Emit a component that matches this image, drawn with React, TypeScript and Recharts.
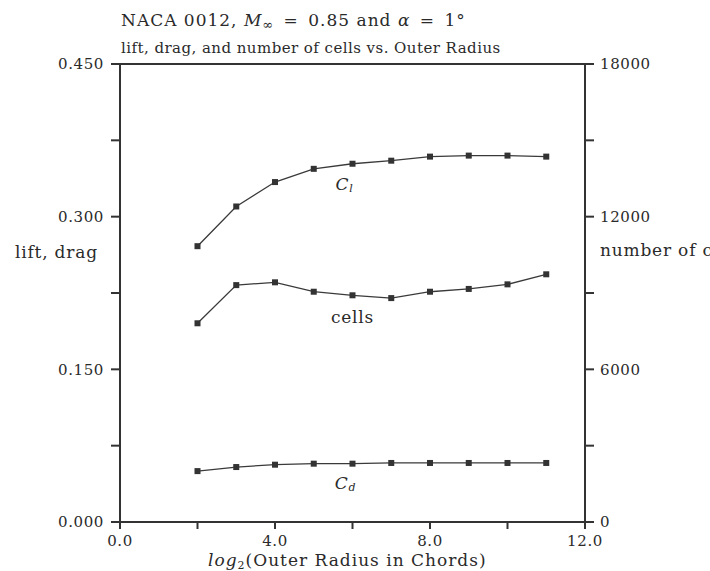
import React from 'react';
import { LineChart, Line, XAxis, YAxis, ReferenceLine, LabelList } from 'recharts';

// log2 of the outer boundary radius, in chords
const radiusLog2 = [2, 3, 4, 5, 6, 7, 8, 9, 10, 11];
// lift coefficient C_l (left axis)
const liftCl = [0.271, 0.31, 0.334, 0.347, 0.352, 0.355, 0.359, 0.36, 0.36, 0.359];
// drag coefficient C_d (left axis)
const dragCd = [0.05, 0.054, 0.0563, 0.0573, 0.0573, 0.058, 0.058, 0.058, 0.058, 0.058];
// number of grid cells (right axis)
const cellCount = [7810, 9310, 9420, 9050, 8910, 8800, 9050, 9160, 9340, 9735];

const xTicks = [0, 2, 4, 6, 8, 10, 12];
const xTickLabels = ['0.0', '', '4.0', '', '8.0', '', '12.0'];
const leftTicks = [0, 0.075, 0.15, 0.225, 0.3, 0.375, 0.45];
const leftTickLabels = ['0.000', '', '0.150', '', '0.300', '', '0.450'];
const rightTicks = [0, 3000, 6000, 9000, 12000, 15000, 18000];
const rightTickLabels = ['0', '', '6000', '', '12000', '', '18000'];

const rows = radiusLog2.map((r, i) => ({
  r,
  cl: liftCl[i],
  cd: dragCd[i],
  cells: cellCount[i],
}));

const FONT = '"DejaVu Serif", serif';
const INK = '#2a2a2a';
const AXIS = '#333';

const tickStyle = { fontFamily: FONT, fontSize: 15, fill: INK, letterSpacing: 0.6 };

const Square = (props: any) => {
  const { cx, cy, index } = props;
  if (cx == null || cy == null) return <g key={`n${index}`} />;
  return <rect key={`s${index}`} x={cx - 3} y={cy - 3} width={6} height={6} fill="#333" />;
};

// Inline series name drawn under one point of the curve
const seriesTag = (at: number, dx: number, dy: number, base: string, sub?: string) =>
  (p: any) => {
    if (p.index !== at) return null;
    return (
      <text
        x={Number(p.x) + dx}
        y={Number(p.y) + dy}
        textAnchor="middle"
        dominantBaseline="central"
        fontFamily={FONT}
        fontSize={17}
        letterSpacing={0.8}
        fill={INK}
        fontStyle={sub ? 'italic' : 'normal'}
      >
        {base}
        {sub ? (
          <tspan fontSize={11} dy={4}>
            {sub}
          </tspan>
        ) : null}
      </text>
    );
  };

const label17 = { fontSize: 17, lineHeight: '20px', whiteSpace: 'nowrap' as const };
const relation = { margin: '0 3px' };

export default function App() {
  return (
    <div
      style={{
        position: 'absolute',
        left: 0,
        top: 0,
        width: 710,
        height: 571,
        overflow: 'hidden',
        background: '#fff',
        fontFamily: FONT,
        color: INK,
      }}
    >
      <LineChart
        width={710}
        height={571}
        data={rows}
        margin={{ top: 64, right: 65, bottom: 0, left: 60 }}
      >
        <XAxis
          dataKey="r"
          type="number"
          domain={[0, 12]}
          ticks={xTicks}
          tickFormatter={(v: number) => xTickLabels[xTicks.indexOf(v)] ?? ''}
          height={49}
          tickSize={7}
          tickMargin={6}
          axisLine={{ stroke: AXIS, strokeWidth: 2 }}
          tickLine={{ stroke: AXIS, strokeWidth: 2 }}
          tick={tickStyle}
          interval={0}
        />
        <YAxis
          yAxisId="left"
          orientation="left"
          type="number"
          domain={[0, 0.45]}
          ticks={leftTicks}
          tickFormatter={(v: number) => leftTickLabels[leftTicks.indexOf(v)] ?? ''}
          width={60}
          tickSize={9}
          tickMargin={7}
          axisLine={{ stroke: AXIS, strokeWidth: 2 }}
          tickLine={{ stroke: AXIS, strokeWidth: 2 }}
          tick={tickStyle}
          interval={0}
        />
        <YAxis
          yAxisId="right"
          orientation="right"
          type="number"
          domain={[0, 18000]}
          ticks={rightTicks}
          tickFormatter={(v: number) => rightTickLabels[rightTicks.indexOf(v)] ?? ''}
          width={60}
          tickSize={9}
          tickMargin={6}
          axisLine={{ stroke: AXIS, strokeWidth: 2 }}
          tickLine={{ stroke: AXIS, strokeWidth: 2 }}
          tick={tickStyle}
          interval={0}
        />
        <ReferenceLine yAxisId="left" y={0.45} stroke={AXIS} strokeWidth={2} />
        <Line
          yAxisId="left"
          dataKey="cl"
          type="linear"
          stroke="#3a3a3a"
          strokeWidth={1.3}
          dot={Square}
          activeDot={false}
          isAnimationActive={false}
        >
          <LabelList dataKey="cl" content={seriesTag(4, -8, 20, 'C', 'l')} />
        </Line>
        <Line
          yAxisId="right"
          dataKey="cells"
          type="linear"
          stroke="#3a3a3a"
          strokeWidth={1.3}
          dot={Square}
          activeDot={false}
          isAnimationActive={false}
        >
          <LabelList dataKey="cells" content={seriesTag(4, 0, 22, 'cells')} />
        </Line>
        <Line
          yAxisId="left"
          dataKey="cd"
          type="linear"
          stroke="#3a3a3a"
          strokeWidth={1.3}
          dot={Square}
          activeDot={false}
          isAnimationActive={false}
        >
          <LabelList dataKey="cd" content={seriesTag(4, -7, 19, 'C', 'd')} />
        </Line>
      </LineChart>

      <div style={{ position: 'absolute', left: 121, top: 10, ...label17, letterSpacing: 1 }}>
        NACA 0012, <i>M</i>
        <sub style={{ fontSize: 13, verticalAlign: '-3px', lineHeight: 0 }}>∞</sub>
        <span style={relation}> = </span>0.85 and <i>α</i>
        <span style={relation}> = </span>1°
      </div>
      <div style={{ position: 'absolute', left: 121, top: 39, fontSize: 15, lineHeight: '18px', whiteSpace: 'nowrap', letterSpacing: 0.45 }}>
        lift, drag, and number of cells vs. Outer Radius
      </div>
      <div style={{ position: 'absolute', left: 15, top: 242, ...label17, letterSpacing: 0.8 }}>
        lift, drag
      </div>
      <div style={{ position: 'absolute', left: 600, top: 240, ...label17, letterSpacing: 0.8 }}>
        number of cells
      </div>
      <div style={{ position: 'absolute', left: 208, top: 550, ...label17, letterSpacing: 1 }}>
        <i>log</i>
        <sub style={{ fontSize: 11, verticalAlign: '-3px', lineHeight: 0 }}>2</sub>(Outer Radius in Chords)
      </div>
    </div>
  );
}
